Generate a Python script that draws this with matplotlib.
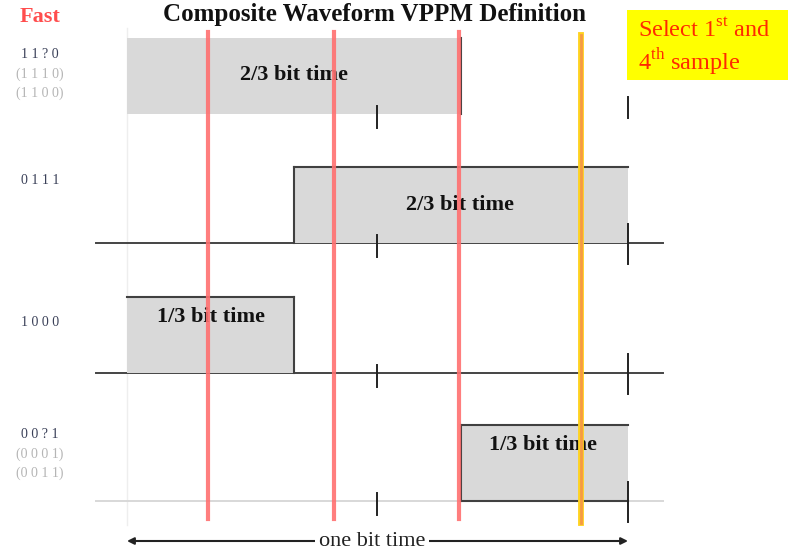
import matplotlib
matplotlib.use('Agg')
import matplotlib.pyplot as plt
from matplotlib.patches import Rectangle

plt.rcParams['font.family'] = 'Liberation Serif'
plt.rcParams['mathtext.fontset'] = 'custom'
plt.rcParams['mathtext.rm'] = 'Liberation Serif'

# ========== datos ==========
patterns = ['1 1 ? 0', '0 1 1 1', '1 0 0 0', '0 0 ? 1']
alt_patterns = [['(1 1 1 0)', '(1 1 0 0)'], [], [], ['(0 0 0 1)', '(0 0 1 1)']]
pulse_start = [0.0, 1/3, 0.0, 2/3]       # en fracciones de bit
pulse_end = [2/3, 1.0, 1/3, 1.0]
pulse_labels = ['2/3 bit time', '2/3 bit time', '1/3 bit time', '1/3 bit time']
sample_times = [0.162, 0.413, 0.663, 0.907]
tick_times = [0.5, 1.0]

# ========== layout (y en pixeles) ==========
row_base = [114, 243, 373, 501]
pulse_h = 76
# lados del contorno oscuro por fila
outline = [('right',), ('left', 'top'), ('top', 'right'), ('left', 'top', 'bottom')]
baseline_col = [None, '#444444', '#444444', '#d8d8d8']
label_pos = [(0.333, 75), (0.665, 205), (0.167, 317), (0.83, 445)]
pattern_y = [55, 180, 323, 435]

px = lambda p: (p - 127) / 501   # pixel -> fraccion de bit

fig = plt.figure(figsize=(7.9, 5.49), dpi=100)
ax = fig.add_axes([0, 0, 1, 1])
ax.set_xlim(px(0), px(790))
ax.set_ylim(549, 0)
ax.axis('off')

# linea guia tenue
ax.plot([0, 0], [28, 525], color='#eeeeee', lw=1, zorder=0)

dk = '#404040'
for i in range(len(patterns)):
    b = row_base[i]
    t = b - pulse_h
    x0, x1 = pulse_start[i], pulse_end[i]
    if baseline_col[i] is not None:
        ax.plot([px(96), px(663)], [b, b], color=baseline_col[i], lw=1.4, zorder=1)
    ax.fill_between([x0, x1], t, b, color='#d9d9d9', lw=0, zorder=1)
    sides = outline[i]
    if 'left' in sides:
        ax.plot([x0, x0], [t, b], color=dk, lw=1.5, zorder=2)
    if 'right' in sides:
        ax.plot([x1, x1], [t, b], color=dk, lw=1.5, zorder=2)
    if 'top' in sides:
        ax.plot([x0, x1], [t, t], color=dk, lw=1.5, zorder=2)
    if 'bottom' in sides:
        ax.plot([x0, x1], [b, b], color=dk, lw=1.5, zorder=2)

    # marcas de tiempo
    ax.plot([tick_times[0]] * 2, [b - 8, b + 14], color='#222222', lw=1.4, zorder=2)
    if i == 0:
        ax.plot([tick_times[1]] * 2, [b - 17, b + 4], color='#222222', lw=1.4, zorder=2)
    else:
        ax.plot([tick_times[1]] * 2, [b - 19, b + 21], color='#222222', lw=1.4, zorder=2)

    lx, ly = label_pos[i]
    ax.text(lx, ly, pulse_labels[i], ha='center', va='center', fontsize=16,
            fontweight='bold', color='#111111', zorder=3)

    # etiquetas de patron
    py = pattern_y[i]
    ax.text(px(40), py, patterns[i], ha='center', va='center', fontsize=10,
            color='#3a4058', zorder=3)
    for j, alt in enumerate(alt_patterns[i]):
        ax.text(px(40), py + 19 * (j + 1), alt, ha='center', va='center',
                fontsize=10, color='#b5b5b5', zorder=3)

# lineas de muestreo
for k, s in enumerate(sample_times):
    if k < 3:
        ax.plot([s, s], [32, 519], color='#ff7070', lw=3, zorder=4, alpha=0.9)
    else:
        ax.plot([s, s], [35, 523], color='#ffd21f', lw=4.2, zorder=4)
        ax.plot([s, s], [35, 523], color='#f59a45', lw=2, zorder=5)

# flecha "one bit time"
ax.annotate('', xy=(0, 541), xytext=(1, 541),
            arrowprops=dict(arrowstyle='<|-|>', color='#222222', lw=1.5,
                            mutation_scale=10, shrinkA=0, shrinkB=0))
ax.text(px(372), 541, 'one bit time', ha='center', va='center', fontsize=16,
        color='#222222', bbox=dict(facecolor='white', edgecolor='none', pad=3), zorder=6)

# titulo y textos
ax.text(px(375), 15, 'Composite Waveform VPPM Definition', ha='center', va='center',
        fontsize=18, fontweight='bold', color='#111111')
ax.text(px(40), 17, 'Fast', ha='center', va='center', fontsize=16, fontweight='bold',
        color='#ff4d4d')

ax.add_patch(Rectangle((px(627), 10), px(788) - px(627), 70, facecolor='#ffff00',
                       edgecolor='none', zorder=6))
ax.text(px(638), 48, 'Select 1$^{\\rm st}$ and\n4$^{\\rm th}$ sample', ha='left', va='center',
        fontsize=17.5, color='#ff2a00', linespacing=1.2, zorder=7)

plt.savefig('out.png', dpi=100)
